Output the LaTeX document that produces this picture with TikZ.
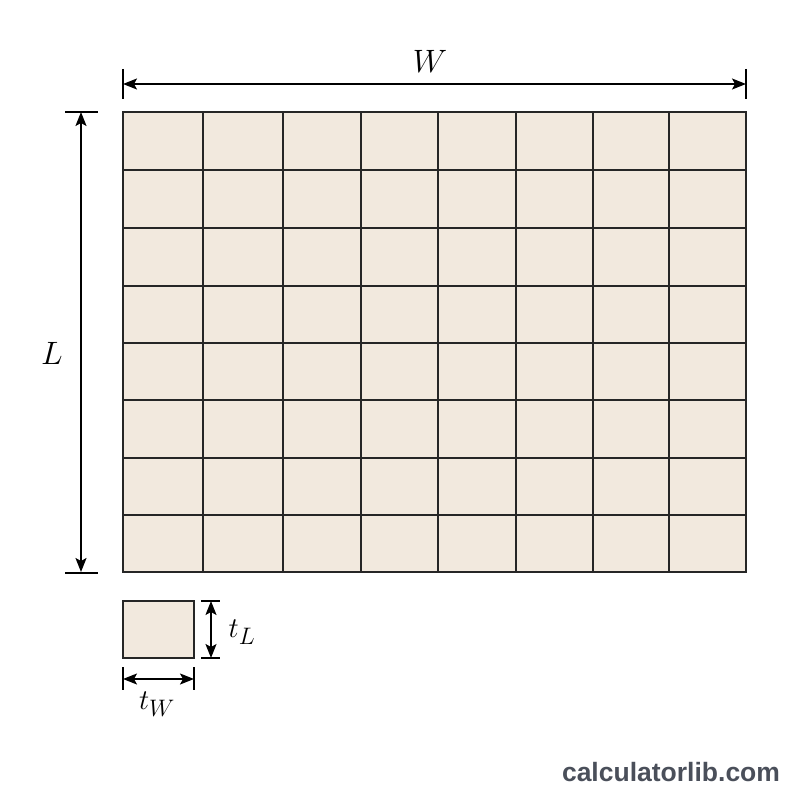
\documentclass[tikz,border=0pt]{standalone}
\usepackage{fontspec}
\newfontfamily\wmfont{Liberation Sans}
\usetikzlibrary{arrows.meta}
\definecolor{tilefill}{HTML}{F2E9DE}
\definecolor{inkc}{HTML}{262626}
\definecolor{wmcol}{HTML}{4A4F5A}
\tikzset{
  gridline/.style={draw=inkc, line width=1.3pt},
  outline/.style={draw=inkc, line width=1.8pt},
  dimline/.style={draw=black, line width=1.4pt, {Stealth[length=14pt,width=11pt,inset=3pt]}-{Stealth[length=14pt,width=11pt,inset=3pt]}},
  tick/.style={draw=black, line width=1.2pt},
  biglbl/.style={font=\fontsize{24.88}{30}\selectfont, inner sep=0pt, scale=1.3},
  smalllbl/.style={font=\fontsize{24.88}{30}\selectfont, inner sep=0pt, scale=1.15},
}
\begin{document}
\begin{tikzpicture}[x=1pt,y=-1pt]
\useasboundingbox (0,0) rectangle (800,800);
% main tiled area
\fill[tilefill] (123,112) rectangle (746,572);
\foreach \x in {203,283,361,438,516,593,669} \draw[gridline] (\x,112) -- (\x,572);
\foreach \y in {170,228,286,343,400,458,515} \draw[gridline] (123,\y) -- (746,\y);
\draw[outline] (123,112) rectangle (746,572);
% W dimension
\coordinate (wl) at (123,84);
\coordinate (wr) at (746,84);
\draw[tick] (123,69) -- (123,99);
\draw[tick] (746,69) -- (746,99);
\draw[dimline] (wl) -- (wr);
\node[biglbl] (Wlbl) at (430,61) {$W$};
% L dimension
\coordinate (lt) at (81,112);
\coordinate (lb) at (81,572);
\draw[tick] (65,112) -- (98,112);
\draw[tick] (65,573) -- (98,573);
\draw[dimline] (lt) -- (lb);
\node[biglbl] (Llbl) at (52,353) {$L$};
% single tile
\draw[outline, fill=tilefill, line width=1.5pt] (123,601) rectangle (194,658);
% tL dimension
\coordinate (tlt) at (211,601);
\coordinate (tlb) at (211,658);
\draw[tick] (201,601) -- (220,601);
\draw[tick] (201,658) -- (220,658);
\draw[dimline] (tlt) -- (tlb);
\node[smalllbl] (tLlbl) at (242,632) {$t_L$};
% tW dimension
\coordinate (twl) at (123,679);
\coordinate (twr) at (194,679);
\draw[tick] (123,667) -- (123,690);
\draw[tick] (194,667) -- (194,690);
\draw[dimline] (twl) -- (twr);
\node[smalllbl] (tWlbl) at (157,704) {$t_W$};
% watermark
\node[font=\wmfont\bfseries\fontsize{26.5}{30}\selectfont, text=wmcol, inner sep=0pt] (wm) at (671,772) {calculatorlib.com};
\end{tikzpicture}
\end{document}
